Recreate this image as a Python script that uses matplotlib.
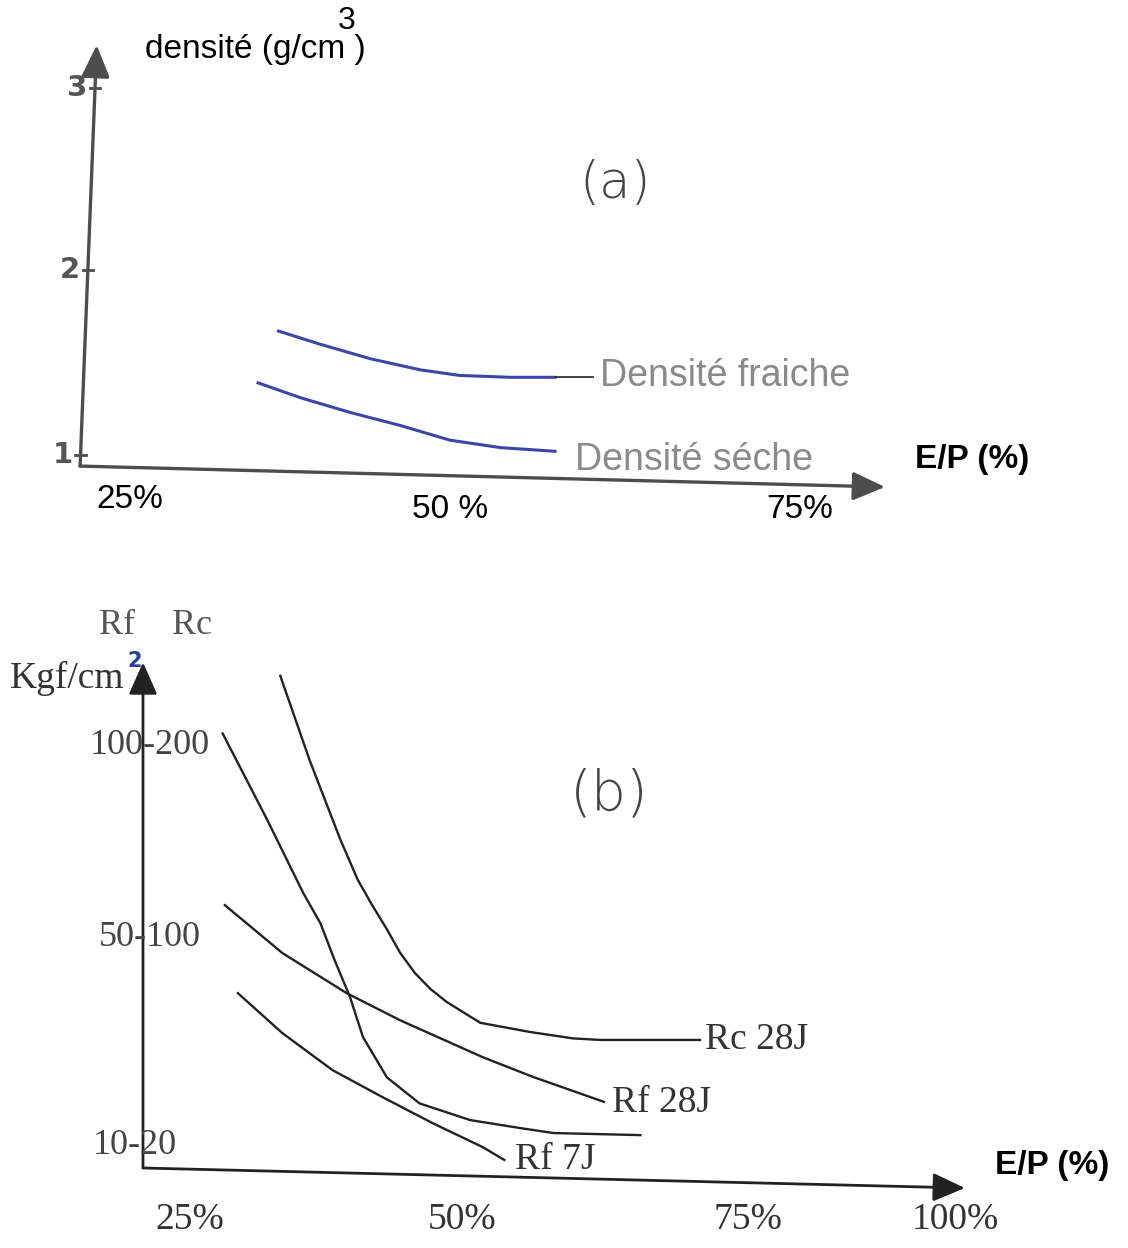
import numpy as np
import matplotlib
matplotlib.use('Agg')
import matplotlib.pyplot as plt

# ---- (a) densite en fonction de E/P ----
ep_fraiche = [36.6, 39.8, 43.8, 47.7, 50.7, 54.3, 57.5]
d_fraiche = [1.67, 1.60, 1.52, 1.46, 1.43, 1.42, 1.42]
ep_seche = [35.0, 38.3, 42.2, 46.1, 50.0, 53.6, 57.5]
d_seche = [1.39, 1.31, 1.23, 1.16, 1.08, 1.04, 1.02]
dens_ticks = [1, 2, 3]
ep_ticks_a = [25, 50, 75]
ep_labels_a = ['25%', '50 %', '75%']

# ---- (b) resistances Rf / Rc (kgf/cm2) ----
ep_rc28 = [33.3, 36.0, 38.8, 40.4, 41.7, 43.1, 44.3, 45.7, 47.1, 48.6,
           51.6, 55.9, 59.7, 62.1, 70.8]
rc28 = [236, 192, 151, 130, 117, 104, 94, 86, 80, 75, 67, 63.5, 61, 60.4, 60.4]
ep_rc7 = [28.0, 32.1, 35.4, 37.0, 38.3, 39.7, 40.9, 43.1, 46.1, 50.7,
          55.1, 58.0, 65.6]
rc7 = [206, 161, 123, 107, 91, 77, 61.5, 46, 36, 29.6, 26.5, 24.6, 23.8]
ep_rf28 = [28.2, 33.5, 39.4, 44.3, 51.8, 56.2, 62.4]
rf28 = [58.3, 46.9, 39.2, 34.0, 26.9, 23.1, 18.3]
ep_rf7 = [29.4, 33.5, 38.1, 42.7, 47.3, 51.8, 53.7]
rf7 = [39.2, 31.5, 24.4, 19.2, 14.2, 9.1, 3.5]
rc_ticks = [20, 100, 200]
r_labels = ['10-20', '50-100', '100-200']
ep_ticks_b = [25, 50, 75, 100]
ep_labels_b = ['25%', '50%', '75%', '100%']
RC_PAR_RF = 2  # echelle Rc = 2 x echelle Rf


def echelle(ax, axe, vals, pix):
    # echelle dessinee a la main : lineaire par morceaux
    vals = np.asarray(vals, float)
    pix = np.asarray(pix, float)
    f = lambda v: np.interp(v, vals, pix)
    g = lambda p: np.interp(p, pix, vals)
    if axe == 'x':
        ax.set_xscale('function', functions=(f, g))
        ax.set_xlim(vals[0], vals[-1])
    else:
        ax.set_yscale('function', functions=(f, g))
        ax.set_ylim(vals[0], vals[-1])


def fleche(ax, base, tip, color, lw):
    ax.annotate('', xy=tip, xytext=base,
                arrowprops=dict(arrowstyle='-|>,head_length=0.9,head_width=0.4',
                                color=color, lw=lw, shrinkA=0, shrinkB=0,
                                mutation_scale=22))


fig = plt.figure(figsize=(11.28, 12.48), dpi=100)

# =================== (a) ===================
ax = fig.add_axes([0, 1 - 570 / 1248, 1, 570 / 1248])
ax.axis('off')
echelle(ax, 'x', [14.84, 25, 50, 75, 98.43], [0, 130, 450, 800, 1128])
echelle(ax, 'y', [0.378, 1, 2, 3, 3.484], [-570, -455, -270, -88, 0])

gris = '#4d4d4d'
x0, y0 = 21.1, 0.94
xtop, ytop = 22.4, 3.236
fleche(ax, (x0, y0), (xtop, ytop), gris, 2.4)
fleche(ax, (x0, y0), (81.07, 0.827), gris, 2.4)

for v in dens_ticks:
    xa = x0 + (xtop - x0) * (v - y0) / (ytop - y0)
    ax.plot([xa - 0.4, xa + 0.4], [v, v], color=gris, lw=2)
    ax.text(xa - 0.6, v, str(v), ha='right', va='center', fontsize=21,
            fontweight='bold', color='#555555')

for v, lab in zip(ep_ticks_a, ep_labels_a):
    yl = 0.757 if v == 25 else 0.703
    ax.text(v, yl, lab, ha='center', va='center', fontsize=24,
            family='Liberation Sans', color='black')

ax.text(83.2, 0.973, 'E/P (%)', ha='left', va='center', fontsize=24,
        fontweight='bold', family='Liberation Sans')
ax.text(26.2, 3.21, 'densité (g/cm )', ha='left', va='center', fontsize=24,
        family='Liberation Sans')
ax.text(41.95, 3.37, '3', ha='center', va='center', fontsize=23,
        family='Liberation Sans')
ax.text(61.8, 2.475, '(a)', ha='center', va='center', fontsize=37,
        color='#444444', fontweight='light')

bleu = '#3a46a8'
ax.plot(ep_fraiche, d_fraiche, color=bleu, lw=2.2)
ax.plot(ep_seche, d_seche, color=bleu, lw=2.2)
ax.plot([ep_fraiche[-1], 60.2], [d_fraiche[-1]] * 2, color='#333333', lw=1.3)
ax.text(60.7, 1.426, 'Densité fraiche', ha='left', va='center', fontsize=27,
        family='Liberation Sans', color='#8a8a8a')
ax.text(58.9, 0.973, 'Densité séche', ha='left', va='center', fontsize=27,
        family='Liberation Sans', color='#8a8a8a')

# =================== (b) ===================
bx = fig.add_axes([0, 0, 1, 678 / 1248])
bx.axis('off')
echelle(bx, 'x', [7.54, 25, 50, 75, 100, 120.9], [0, 190, 462, 748, 955, 1128])
echelle(bx, 'y', [-69.6, 0, 20, 100, 200, 291.1],
        [-1248, -1168, -1145, -937, -745, -570])

noir = '#222222'
xb0 = 20.68
fleche(bx, (xb0, 0), (xb0, 243), noir, 2.0)
fleche(bx, (xb0, 0), (101.2, -17.4), noir, 2.0)

serif = 'Liberation Serif'
for v, lab, dx in zip(rc_ticks, r_labels, [-0.7, 0.6, 0.6]):
    bx.text(xb0 + dx, v, lab, ha='center', va='center', fontsize=26,
            family=serif, color='#444444')

for v, lab in zip(ep_ticks_b, ep_labels_b):
    bx.text(v, -45, lab, ha='center', va='center', fontsize=27,
            family=serif, color='#333333')

bx.text(104.8, 2.6, 'E/P (%)', ha='left', va='center', fontsize=24,
        fontweight='bold', family='Liberation Sans')
bx.text(18.3, 262, 'Rf', ha='center', va='center', fontsize=26,
        family=serif, color='#555555')
bx.text(25.2, 262, 'Rc', ha='center', va='center', fontsize=26,
        family=serif, color='#555555')
bx.text(8.46, 234.9, 'Kgf/cm', ha='left', va='center', fontsize=27,
        family=serif, color='#333333')
bx.text(19.9, 243.5, '2', ha='center', va='center', fontsize=15,
        fontweight='bold', color='#2a3a9a')
bx.text(62.9, 174, '(b)', ha='center', va='center', fontsize=40,
        color='#444444', fontweight='light')

bx.plot(ep_rc28, rc28, color=noir, lw=1.7)
bx.plot(ep_rc7, rc7, color=noir, lw=1.7)
bx.plot(ep_rf28, np.array(rf28) * RC_PAR_RF, color=noir, lw=1.7)
bx.plot(ep_rf7, np.array(rf7) * RC_PAR_RF, color=noir, lw=1.7)

bx.text(71.2, 60.4, 'Rc 28J', ha='left', va='center', fontsize=27,
        family=serif, color='#333333')
bx.text(63.1, 36.2, 'Rf 28J', ha='left', va='center', fontsize=27,
        family=serif, color='#333333')
bx.text(54.6, 7.0, 'Rf 7J', ha='left', va='center', fontsize=27,
        family=serif, color='#333333')

fig.savefig('out.png', dpi=100, facecolor='white')
